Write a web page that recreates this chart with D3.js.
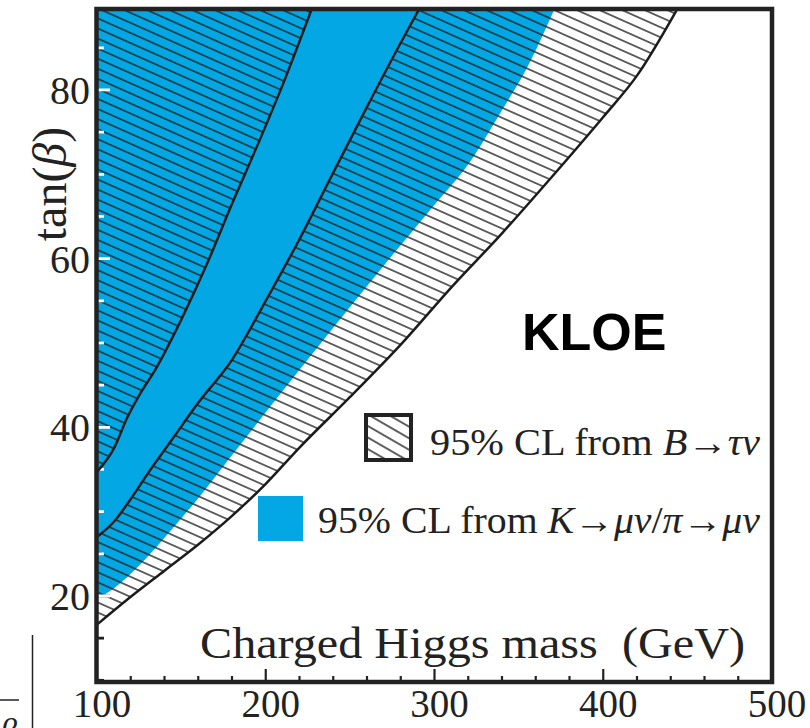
<!DOCTYPE html>
<html><head><meta charset="utf-8">
<script src="https://cdn.jsdelivr.net/npm/d3@7"></script>
<style>
body{margin:0;background:#fff}
svg{display:block}
text{font-family:"Liberation Serif","DejaVu Serif",serif;fill:#222}
</style>
</head><body>
<svg id="c" width="810" height="728"></svg>
<script>
// ---- data ----
const xTickLabels = [100, 200, 300, 400, 500];
const yTickLabels = [20, 40, 60, 80];
const xMinorTicks = [100,120,140,160,180,200,220,240,260,280,300,320,340,360,380,400,420,440,460,480,500];
const yMinorTicks = [10,15,20,25,30,35,40,45,50,55,60,65,70,75,80,85];

// outer boundary of the B->tau nu allowed (hatched) region
const outerM = [100,120,140,160,180,200,220,250,280,310,340,370,400,420,445];
const outerT = [16.6,19.9,23.0,26.1,29.5,33.3,37.6,43.6,49.8,56.6,63.0,69.8,76.8,81.7,90];
// lower edge of the excluded central band
const bandLowM = [100,110,120,130,145,160,180,200,220,240,260,280,292];
const bandLowT = [27.0,28.8,31.5,34.5,38.7,42.9,48.0,55.0,62.3,70.2,78.0,85.6,90];
// upper edge of the excluded central band
const bandHighM = [100,110,118,125,135,150,165,180,195,210,228];
const bandHighT = [34.7,37.5,41.2,43.8,47.0,52.8,59.3,66.5,73.4,80.6,90];
// edge of the K->mu nu / pi->mu nu region (blue)
const kmuM = [100,110,125,140,160,180,210,240,270,300,320,340,355,372];
const kmuT = [19.7,20.9,23.6,26.9,31.6,36.7,44.3,51.8,59.2,66.4,71.2,77.6,82.7,90];

const BLUE = "#03a7e4";

const svg = d3.select("#c");
const x = d3.scaleLinear().domain([100, 500]).range([97, 772]);
const y = d3.scaleLinear().domain([9.8, 89.6]).range([682, 9]);

const zip = (a, b) => a.map((v, i) => [v, b[i]]);
const curve = d3.line().x(d => x(d[0])).y(d => y(d[1])).curve(d3.curveMonotoneX);
function above(ms, ts) {
  const pts = zip(ms, ts);
  const last = pts[pts.length - 1];
  return curve(pts) +
    `L${x(last[0])},${y(100)}L${x(80)},${y(100)}L${x(80)},${y(pts[0][1])}Z`;
}

const defs = svg.append("defs");
defs.append("clipPath").attr("id", "plotclip").append("rect")
  .attr("x", x(100)).attr("y", y(89.6)).attr("width", x(500) - x(100)).attr("height", y(9.8) - y(89.6));

const hatchD = above(outerM, outerT) + above(bandLowM, bandLowT) + above(bandHighM, bandHighT);
const blueD = above(kmuM, kmuT);

const regClip = defs.append("clipPath").attr("id", "regclip");
regClip.append("path").attr("d", blueD);
regClip.append("path").attr("d", hatchD).attr("clip-rule", "evenodd");

const pat = defs.append("pattern").attr("id", "hatch").attr("patternUnits", "userSpaceOnUse")
  .attr("width", 40).attr("height", 9.2).attr("patternTransform", "rotate(24)");
pat.append("line").attr("x1", 0).attr("x2", 40).attr("y1", 4.6).attr("y2", 4.6)
  .attr("stroke", "#232323").attr("stroke-width", 1.6);

const patL = defs.append("pattern").attr("id", "hatchL").attr("patternUnits", "userSpaceOnUse")
  .attr("width", 40).attr("height", 10).attr("patternTransform", "rotate(30)");
patL.append("line").attr("x1", 0).attr("x2", 40).attr("y1", 5).attr("y2", 5)
  .attr("stroke", "#2a2a2a").attr("stroke-width", 1.4);

// ---- ticks ----
function drawTicks(g, color) {
  g.selectAll(".yt").data(yMinorTicks).join("line")
    .attr("x1", x(100)).attr("x2", d => x(100) + (yTickLabels.includes(d) ? 13 : 7))
    .attr("y1", d => y(d)).attr("y2", d => y(d))
    .attr("stroke", color).attr("stroke-width", 2.8);
  g.selectAll(".xt").data(xMinorTicks).join("line")
    .attr("y1", y(9.8)).attr("y2", d => y(9.8) - (xTickLabels.includes(d) ? 13 : 6))
    .attr("x1", d => x(d)).attr("x2", d => x(d))
    .attr("stroke", color).attr("stroke-width", 2.2);
}
const plot = svg.append("g").attr("clip-path", "url(#plotclip)");
drawTicks(plot.append("g"), "#222");

// ---- regions ----
plot.append("path").attr("d", blueD).attr("fill", BLUE);
plot.append("path").attr("d", hatchD).attr("fill", "url(#hatch)").attr("fill-rule", "evenodd");

// white ticks where they cross filled regions
drawTicks(plot.append("g").attr("clip-path", "url(#regclip)"), "#fff");

// boundary lines
[[outerM, outerT], [bandLowM, bandLowT], [bandHighM, bandHighT]].forEach(([m, t]) => {
  plot.append("path").attr("d", curve(zip(m, t)))
    .attr("fill", "none").attr("stroke", "#1c1c1c").attr("stroke-width", 2.5);
});

// frame
svg.append("rect").attr("x", x(100) - 0.5).attr("y", y(89.6))
  .attr("width", x(500) - x(100) + 0.5).attr("height", y(9.8) - y(89.6))
  .attr("fill", "none").attr("stroke", "#222").attr("stroke-width", 4.5);

// tick labels
svg.selectAll(".yl").data(yTickLabels).join("text")
  .attr("x", 90).attr("y", d => y(d) + 14).attr("text-anchor", "end")
  .attr("font-size", 40).text(d => d);
svg.selectAll(".xl").data(xTickLabels).join("text")
  .attr("x", d => x(d) + 5).attr("y", 717).attr("text-anchor", "middle")
  .attr("font-size", 39).text(d => d);

// axis titles
const yt = svg.append("text").attr("transform", "translate(66,184) rotate(-90)")
  .attr("text-anchor", "middle").attr("font-size", 48);
yt.append("tspan").text("tan(");
yt.append("tspan").attr("font-style", "italic").text("β");
yt.append("tspan").text(")");

svg.append("text").attr("x", 200).attr("y", 658).attr("font-size", 44)
  .attr("textLength", 545).attr("lengthAdjust", "spacingAndGlyphs")
  .style("white-space", "pre").text("Charged Higgs mass  (GeV)");

// KLOE
svg.append("text").attr("x", 522).attr("y", 350).attr("font-size", 52)
  .attr("font-weight", "bold").style("font-family", "'Liberation Sans', Arial, sans-serif")
  .style("fill", "#000").text("KLOE");

// legend
svg.append("rect").attr("x", 366).attr("y", 415).attr("width", 45).attr("height", 45)
  .attr("fill", "url(#hatchL)").attr("stroke", "#222").attr("stroke-width", 4);
const l1 = svg.append("text").attr("x", 430).attr("y", 455).attr("font-size", 37)
  .attr("textLength", 330).attr("lengthAdjust", "spacingAndGlyphs");
l1.append("tspan").text("95% CL from ");
l1.append("tspan").attr("font-style", "italic").text("B");
l1.append("tspan").attr("font-weight", "bold").text("→");
l1.append("tspan").attr("font-style", "italic").text("τν");

svg.append("rect").attr("x", 258).attr("y", 496).attr("width", 45).attr("height", 45).attr("fill", BLUE);
const l2 = svg.append("text").attr("x", 318).attr("y", 533).attr("font-size", 37)
  .attr("textLength", 442).attr("lengthAdjust", "spacingAndGlyphs");
l2.append("tspan").text("95% CL from ");
l2.append("tspan").attr("font-style", "italic").text("K");
l2.append("tspan").attr("font-weight", "bold").text("→");
l2.append("tspan").attr("font-style", "italic").text("μν");
l2.append("tspan").text("/");
l2.append("tspan").attr("font-style", "italic").text("π");
l2.append("tspan").attr("font-weight", "bold").text("→");
l2.append("tspan").attr("font-style", "italic").text("μν");

// fragment of the neighbouring figure at the lower-left edge (cut off in the reference too)
svg.append("line").attr("x1", 32.5).attr("x2", 32.5).attr("y1", 635).attr("y2", 728)
  .attr("stroke", "#222").attr("stroke-width", 1.5);
svg.append("line").attr("x1", 0).attr("x2", 19).attr("y1", 700).attr("y2", 700)
  .attr("stroke", "#222").attr("stroke-width", 1.5);
svg.append("text").attr("x", 0).attr("y", 742).attr("font-size", 34)
  .attr("font-style", "italic").text("β");
</script>
</body></html>
